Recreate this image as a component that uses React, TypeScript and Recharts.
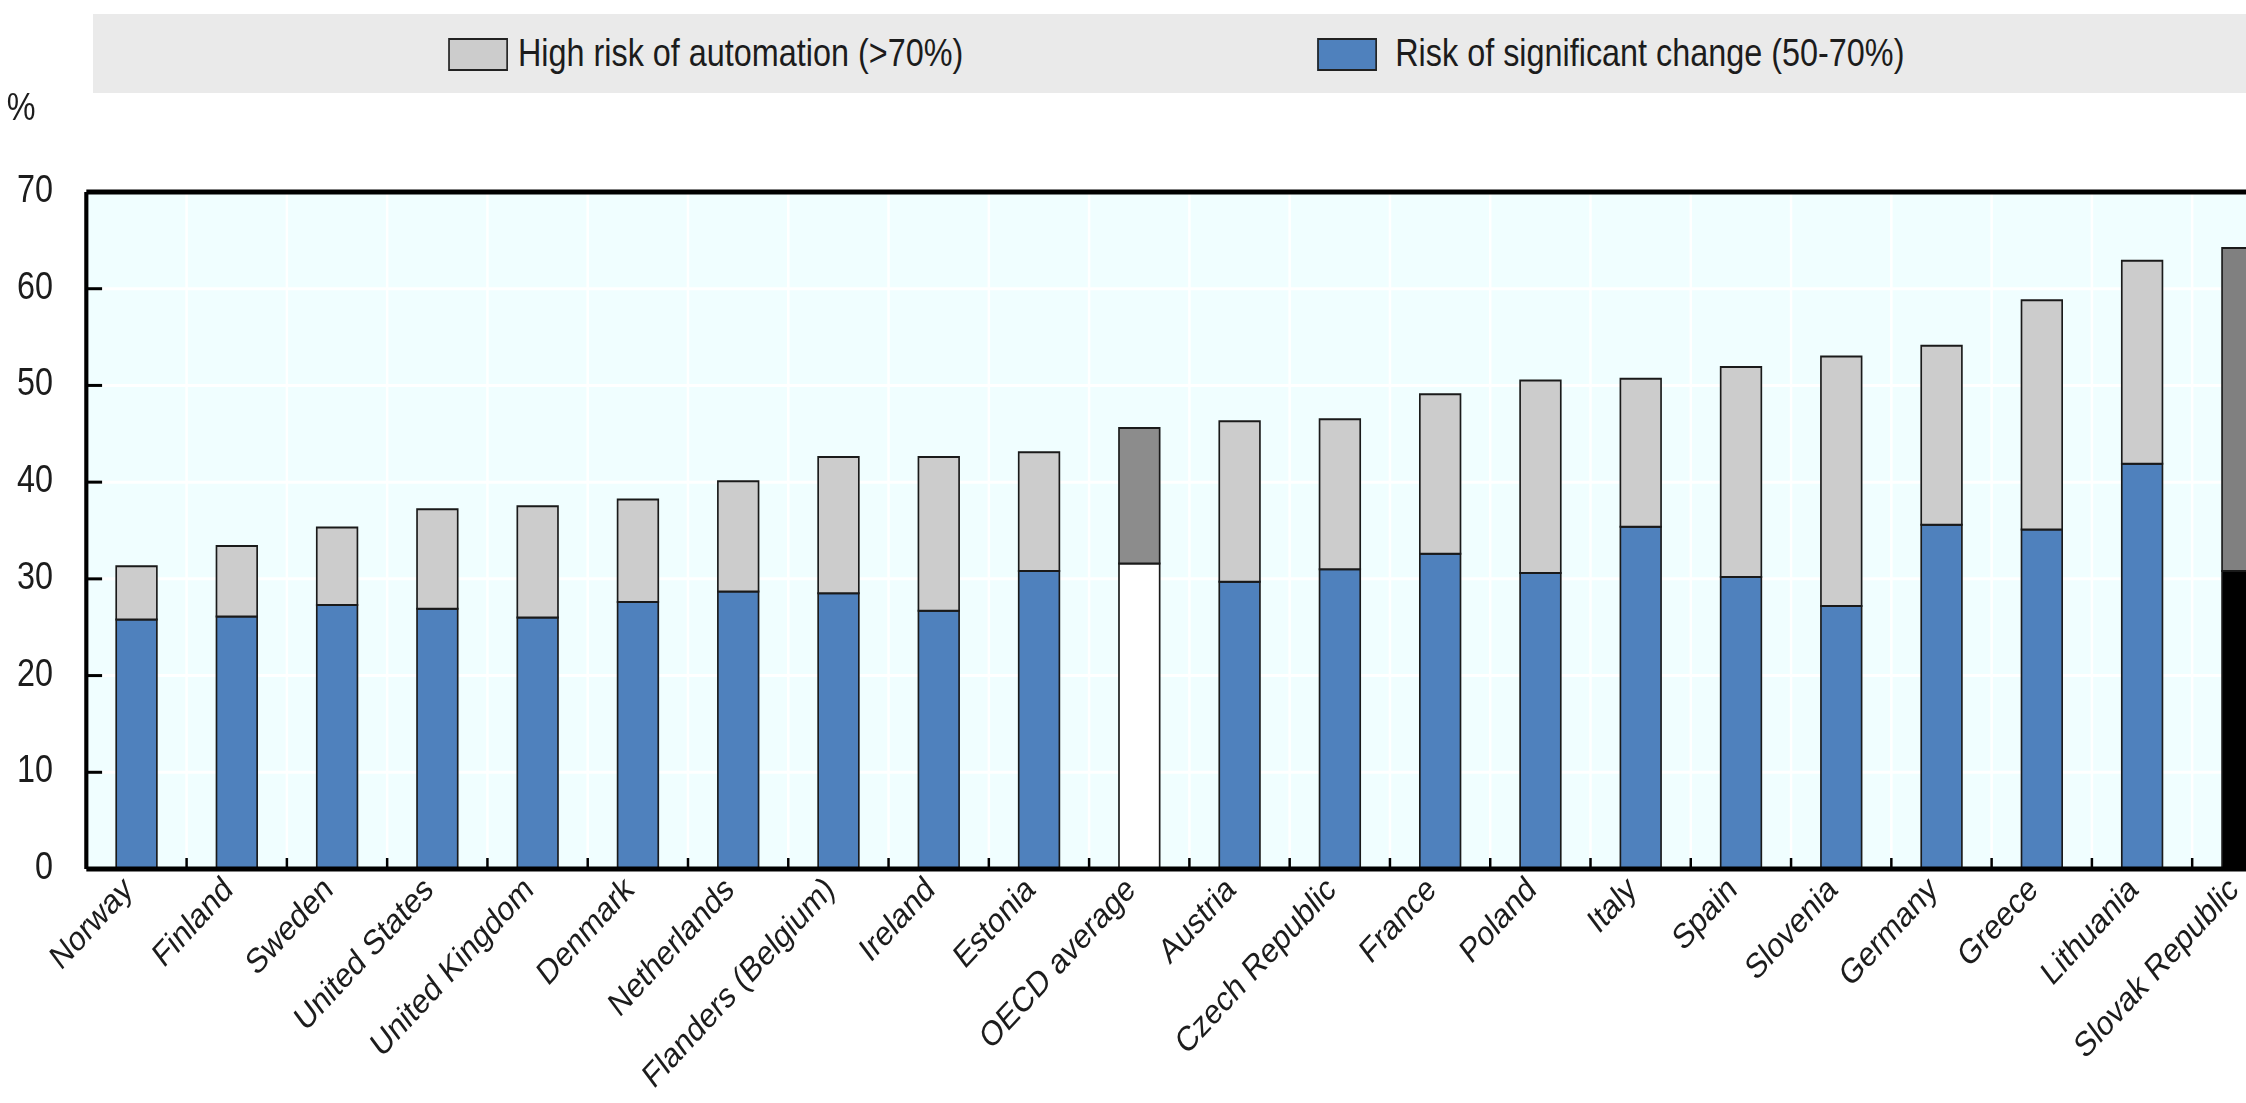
import React from 'react';
import { BarChart, Bar, XAxis, YAxis, CartesianGrid, Cell, Legend, ReferenceLine } from 'recharts';

const countries = [
  'Norway', 'Finland', 'Sweden', 'United States', 'United Kingdom', 'Denmark', 'Netherlands',
  'Flanders (Belgium)', 'Ireland', 'Estonia', 'OECD average', 'Austria', 'Czech Republic', 'France',
  'Poland', 'Italy', 'Spain', 'Slovenia', 'Germany', 'Greece', 'Lithuania', 'Slovak Republic',
];
const significantChange = [
  25.8, 26.1, 27.3, 26.9, 26.0, 27.6, 28.7, 28.5, 26.7, 30.8, 31.6,
  29.7, 31.0, 32.6, 30.6, 35.4, 30.2, 27.2, 35.6, 35.1, 41.9, 30.8,
];
const highRisk = [
  5.5, 7.3, 8.0, 10.3, 11.5, 10.6, 11.4, 14.1, 15.9, 12.3, 14.0,
  16.6, 15.5, 16.5, 19.9, 15.3, 21.7, 25.8, 18.5, 23.7, 21.0, 33.4,
];
const yTicks = [0, 10, 20, 30, 40, 50, 60, 70];
const legendLabels = ['High risk of automation (>70%)', 'Risk of significant change (50-70%)'];

const data = countries.map((c, i) => ({ country: c, significant: significantChange[i], highRisk: highRisk[i] }));

const SX = 0.83;
const CHART_W = 2800;
const CHART_H = 1103;
const Y_W = 104;
const M_RIGHT = 38;
const M_TOP = 14;
const X_H = 234;
const PLOT_W = CHART_W - Y_W - M_RIGHT;
const BAND = PLOT_W / countries.length;
const FONT = '"Liberation Sans", Arial, Helvetica, sans-serif';
const TXT = '#1c1c1c';

const sigColor = (c: string) => (c === 'OECD average' ? '#FFFFFF' : c === 'Slovak Republic' ? '#000000' : '#4F81BD');
const riskColor = (c: string) => (c === 'OECD average' ? '#8C8C8C' : c === 'Slovak Republic' ? '#808080' : '#CCCCCC');

const YTick = (props: any) => {
  const { x, y, payload } = props;
  const v = payload.value;
  return (
    <g>
      {v !== 0 && v !== 70 && <line x1={x} x2={x + 19} y1={y} y2={y} stroke="#000" strokeWidth={3} />}
      <text x={x - 40} y={y - 3} textAnchor="end" dominantBaseline="central" fontSize={39} fontFamily={FONT} fill={TXT}>
        {v}
      </text>
    </g>
  );
};

const XTick = (props: any) => {
  const { x, y, payload, index } = props;
  const bx = x - BAND / 2;
  const ax = x - 3;
  const ay = y + 23;
  return (
    <g>
      {index > 0 && <line x1={bx} x2={bx} y1={y} y2={y - 11} stroke="#000" strokeWidth={3} />}
      <text
        x={ax}
        y={ay}
        textAnchor="end"
        fontSize={35}
        fontFamily={FONT}
        fill={TXT}
        transform={`rotate(-42, ${ax}, ${ay})`}
      >
        {payload.value}
      </text>
    </g>
  );
};

const LegendContent = () => (
  <div style={{ position: 'relative', width: CHART_W, height: 178, fontFamily: FONT, color: TXT }}>
    <div style={{ position: 'absolute', left: 112, top: 0, width: CHART_W - 112, height: 79, background: '#EAEAEA' }} />
    <div style={{ position: 'absolute', left: 540, top: 24, width: 68, height: 29, background: '#CCCCCC', border: '2px solid #222' }} />
    <div style={{ position: 'absolute', left: 624, top: 16, fontSize: 39, lineHeight: '46px', whiteSpace: 'nowrap' }}>{legendLabels[0]}</div>
    <div style={{ position: 'absolute', left: 1587, top: 24, width: 68, height: 29, background: '#4F81BD', border: '2px solid #222' }} />
    <div style={{ position: 'absolute', left: 1681, top: 16, fontSize: 39, lineHeight: '46px', whiteSpace: 'nowrap' }}>{legendLabels[1]}</div>
    <div style={{ position: 'absolute', left: 8, top: 70, fontSize: 39, lineHeight: '46px' }}>%</div>
  </div>
);

export default function App() {
  return (
    <div style={{ position: 'fixed', left: 0, top: 0, width: 2246, height: 1103, overflow: 'hidden', background: '#fff' }}>
      <div style={{ width: CHART_W, height: CHART_H, transform: `scaleX(${SX})`, transformOrigin: '0 0' }}>
        <BarChart
          width={CHART_W}
          height={CHART_H}
          data={data}
          margin={{ top: M_TOP, right: M_RIGHT, left: 0, bottom: 0 }}
        >
          <Legend verticalAlign="top" align="left" content={<LegendContent />} />
          <CartesianGrid
            fill="#F0FEFF"
            stroke="#FFFFFF"
            strokeWidth={3}
            verticalCoordinatesGenerator={({ offset }: any) =>
              Array.from({ length: countries.length + 1 }, (_, i) => offset.left + (i * offset.width) / countries.length)
            }
          />
          <XAxis
            dataKey="country"
            height={X_H}
            interval={0}
            tickLine={false}
            tickSize={0}
            tickMargin={0}
            axisLine={{ stroke: '#000', strokeWidth: 5 }}
            tick={<XTick />}
          />
          <YAxis
            width={Y_W}
            domain={[0, 70]}
            ticks={yTicks}
            tickLine={false}
            tickSize={0}
            tickMargin={0}
            axisLine={{ stroke: '#000', strokeWidth: 5 }}
            tick={<YTick />}
          />
          <ReferenceLine y={70} stroke="#000" strokeWidth={5} />
          <Bar dataKey="significant" stackId="a" barSize={49} stroke="#1a1a1a" strokeWidth={2} isAnimationActive={false}>
            {data.map((d) => (
              <Cell key={d.country} fill={sigColor(d.country)} />
            ))}
          </Bar>
          <Bar dataKey="highRisk" stackId="a" barSize={49} stroke="#1a1a1a" strokeWidth={2} isAnimationActive={false}>
            {data.map((d) => (
              <Cell key={d.country} fill={riskColor(d.country)} />
            ))}
          </Bar>
        </BarChart>
      </div>
    </div>
  );
}
